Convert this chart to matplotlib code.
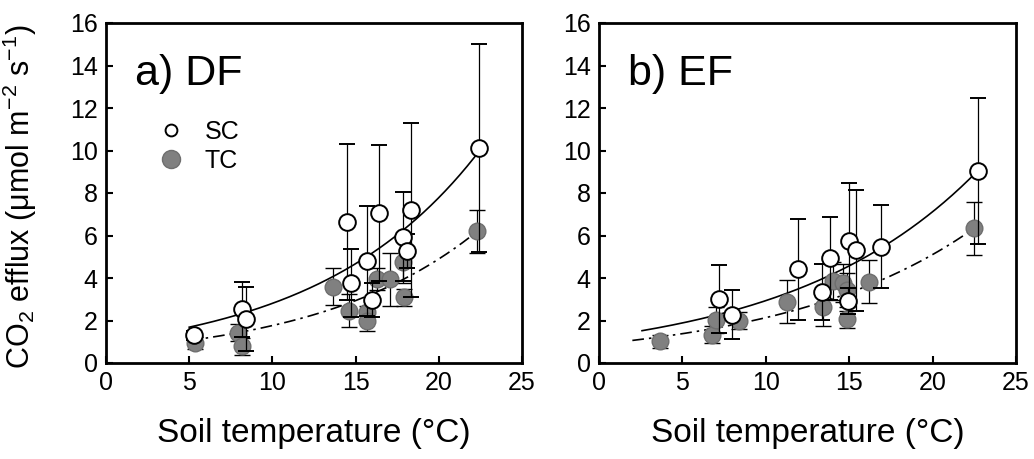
import numpy as np
import matplotlib
matplotlib.use("Agg")
import matplotlib.pyplot as plt
from matplotlib.lines import Line2D

plt.rcParams['font.family'] = ['Liberation Sans', 'DejaVu Sans']
plt.rcParams['mathtext.fontset'] = 'custom'
plt.rcParams['mathtext.rm'] = 'Liberation Sans'
plt.rcParams['mathtext.it'] = 'Liberation Sans'
plt.rcParams['mathtext.default'] = 'regular'

# ---- Panel a) DF ----
a_sc_x = [5.27, 8.2, 8.4, 14.5, 14.7, 15.7, 16.0, 16.4, 17.85, 18.1, 18.3, 22.4]
a_sc_y = [1.30, 2.52, 2.08, 6.64, 3.77, 4.81, 2.97, 7.05, 5.95, 5.28, 7.19, 10.13]
a_sc_e = [0.2, 1.3, 1.5, 3.67, 1.6, 2.6, 0.8, 3.2, 2.1, 0.8, 4.1, 4.9]
a_tc_x = [5.33, 7.92, 8.2, 13.66, 14.62, 15.66, 15.7, 16.26, 17.06, 17.87, 17.9, 22.3]
a_tc_y = [0.94, 1.42, 0.80, 3.59, 2.47, 2.39, 2.00, 3.95, 3.95, 4.77, 3.09, 6.19]
a_tc_e = [0.3, 0.4, 0.4, 0.86, 0.78, 0.3, 0.5, 0.5, 1.25, 1.0, 0.4, 1.0]
# exponential fits y = p0*exp(p1*x), x-range
a_sc_fit = (1.012, 0.102, 5.0, 22.4)
a_tc_fit = (0.634, 0.1022, 5.0, 22.3)

# ---- Panel b) EF ----
b_sc_x = [7.18, 8.0, 11.94, 13.34, 13.84, 15.0, 15.4, 14.94, 16.9, 22.7]
b_sc_y = [3.0, 2.27, 4.41, 3.34, 4.92, 5.75, 5.31, 2.92, 5.47, 9.03]
b_sc_e = [1.6, 1.15, 2.37, 1.3, 1.94, 2.7, 2.85, 0.6, 1.95, 3.44]
b_tc_x = [3.64, 6.8, 7.04, 8.4, 11.28, 13.4, 14.0, 14.6, 14.85, 14.85, 16.2, 22.48]
b_tc_y = [1.02, 1.33, 2.03, 2.0, 2.89, 2.62, 3.85, 3.75, 3.43, 2.06, 3.83, 6.33]
b_tc_e = [0.3, 0.4, 0.6, 0.4, 1.0, 0.9, 0.9, 0.9, 0.8, 0.4, 1.0, 1.25]
b_sc_fit = (1.21, 0.0886, 2.58, 22.7)
b_tc_fit = (0.892, 0.0872, 2.0, 22.5)

panels = [
    dict(label="a) DF", sc=(a_sc_x, a_sc_y, a_sc_e), tc=(a_tc_x, a_tc_y, a_tc_e),
         scfit=a_sc_fit, tcfit=a_tc_fit, legend=True),
    dict(label="b) EF", sc=(b_sc_x, b_sc_y, b_sc_e), tc=(b_tc_x, b_tc_y, b_tc_e),
         scfit=b_sc_fit, tcfit=b_tc_fit, legend=False),
]

fig = plt.figure(figsize=(10.34, 4.59), dpi=100)
W, H = 1034, 459
axes_px = [(106, 522), (599, 1016)]
top_px, bot_px = 23, 363

gray = '#808080'
for (l, r), p in zip(axes_px, panels):
    ax = fig.add_axes([l / W, (H - bot_px) / H, (r - l) / W, (bot_px - top_px) / H])
    for fit, ls in [(p['scfit'], '-'), (p['tcfit'], (0, (7, 3, 1.5, 3)))]:
        p0, p1, x0, x1 = fit
        xx = np.linspace(x0, x1, 200)
        ax.plot(xx, p0 * np.exp(p1 * xx), color='black', lw=1.2, linestyle=ls, zorder=2)
    tx, ty, te = p['tc']
    ax.errorbar(tx, ty, yerr=te, fmt='o', ms=12, mfc=gray, mec='#6e6e6e', mew=1.0,
                ecolor='black', elinewidth=0.9, capsize=6, capthick=0.9, zorder=3)
    sx, sy, se = p['sc']
    ax.errorbar(sx, sy, yerr=se, fmt='o', ms=12, mfc='white', mec='black', mew=1.4,
                ecolor='black', elinewidth=0.9, capsize=6, capthick=0.9, zorder=4)
    ax.set_xlim(0, 25)
    ax.set_ylim(0, 16)
    ax.set_xticks([0, 5, 10, 15, 20, 25])
    ax.set_yticks(range(0, 17, 2))
    ax.tick_params(direction='in', length=5, width=1.5, labelsize=18, pad=6)
    for s in ax.spines.values():
        s.set_linewidth(2)
    ax.set_xlabel("Soil temperature (°C)", fontsize=24, labelpad=16)
    ax.text(0.07, 0.818, p['label'], transform=ax.transAxes, fontsize=31,
            ha='left', va='baseline')
    if p['legend']:
        handles = [
            Line2D([], [], ls='none', marker='o', ms=8.5, mfc='white', mec='black', mew=1.4),
            Line2D([], [], ls='none', marker='o', ms=13, mfc=gray, mec='#6e6e6e', mew=1.0),
        ]
        ax.legend(handles, ['SC', 'TC'], loc='upper left', bbox_to_anchor=(0.096, 0.745),
                  frameon=False, fontsize=18, handlelength=1.2, handletextpad=0.75,
                  labelspacing=0.2, borderaxespad=0)
        ax.set_ylabel("CO$_2$ efflux (μmol m$^{-2}$ s$^{-1}$)", fontsize=22)
        ax.yaxis.set_label_coords(-0.16, 0.49)

fig.savefig("out.png", dpi=100)
